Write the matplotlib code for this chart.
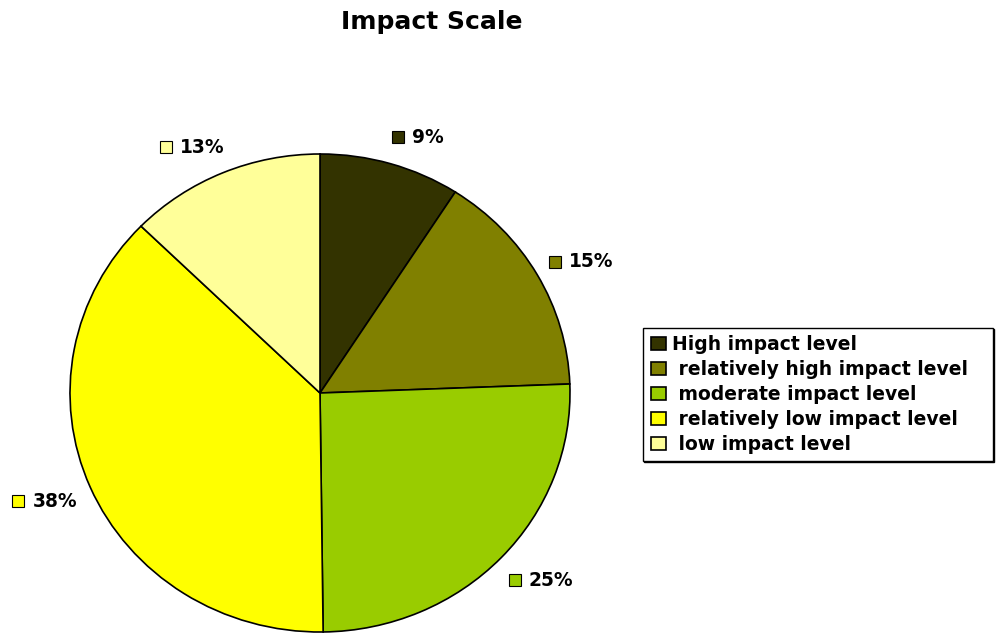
import matplotlib.pyplot as plt
import numpy as np

plt.rcParams['font.family'] = ['DejaVu Sans']
plt.rcParams['font.weight'] = 'bold'

categories = ['High impact level', ' relatively high impact level',
              ' moderate impact level', ' relatively low impact level',
              ' low impact level']
values = [9.1, 15.3, 25.4, 37.5, 12.7]
labels = ['9%', '15%', '25%', '38%', '13%']
colors = ['#333300', '#808000', '#99cc00', '#ffff00', '#ffff99']

fig = plt.figure(figsize=(9.97, 6.33), dpi=100)
ax = fig.add_axes([70 / 997, 1 / 633, 500 / 997, 478 / 633])

wedges, _ = ax.pie(values, colors=colors, startangle=90, counterclock=False,
                   wedgeprops=dict(edgecolor='black', linewidth=1.2))
ax.set_aspect('auto')
ax.set_xlim(-1, 1)
ax.set_ylim(-1, 1)

# outside-end labels: small coloured square + bold percent
texts = []
for w, lab in zip(wedges, labels):
    ang = np.deg2rad((w.theta1 + w.theta2) / 2)
    x = 1.11 * np.cos(ang) + 0.08 * np.sign(np.cos(ang))
    y = 1.125 * np.sin(ang)
    t = ax.annotate(lab, (x, y), xytext=(7, -1.5), textcoords='offset points',
                    ha='center', va='center', fontsize=13.4,
                    fontweight='bold', annotation_clip=False)
    texts.append(t)

fig.canvas.draw()
inv = ax.transData.inverted()
for t, c in zip(texts, colors):
    bb = t.get_window_extent()
    sx, sy = inv.transform((bb.x0 - 14, (bb.y0 + bb.y1) / 2))
    ax.plot(sx, sy, marker='s', markersize=8.5, markerfacecolor=c,
            markeredgecolor='black', markeredgewidth=0.8, clip_on=False)

fig.text(432 / 997, 1 - 22 / 633, 'Impact Scale', ha='center', va='center',
         fontsize=18, fontweight='bold')

leg = fig.legend(wedges, categories, loc='upper left', mode='expand',
                 bbox_to_anchor=(643 / 997, 1 - 455 / 633,
                                 350 / 997, 127 / 633),
                 borderaxespad=0, fancybox=False,
                 shadow={'ox': 0.8, 'oy': -0.8, 'color': 'black',
                         'alpha': 1},
                 prop=dict(size=13.5, weight='bold'),
                 handlelength=0.8, handleheight=0.7, handletextpad=0.32,
                 labelspacing=0.31, borderpad=0.4, edgecolor='black',
                 framealpha=1)
leg.get_frame().set_linewidth(1.0)

fig.savefig('out.png', dpi=100)
